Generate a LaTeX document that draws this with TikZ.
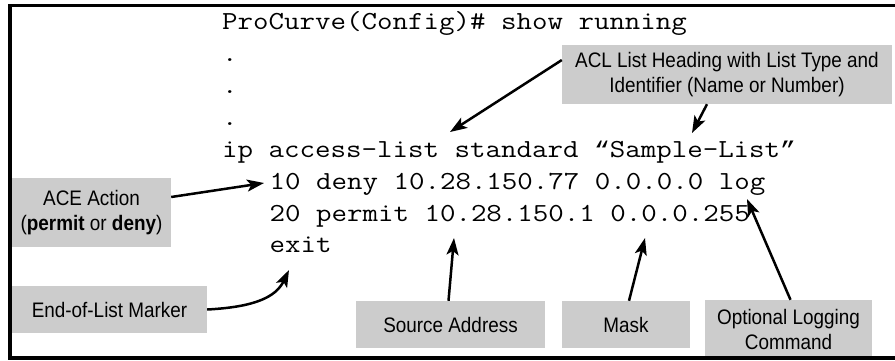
\documentclass[tikz,border=0pt]{standalone}
\usepackage{graphicx}
\usepackage{fontspec}
\setmainfont{Liberation Sans}
\newfontfamily\callfont{Liberation Sans}[FakeStretch=0.9]
\newfontfamily\quotefont{Liberation Mono}
\usetikzlibrary{arrows.meta}
\definecolor{callgray}{RGB}{204,204,204}
\newcommand{\cl}[1]{\scalebox{1.157}[1]{#1}}
\newcommand{\cq}[1]{{\quotefont\fontsize{22.75}{26}\selectfont #1}}
\begin{document}
\begin{tikzpicture}[x=1pt,y=-1pt,
  code/.style={anchor=base west, inner sep=0pt, font=\fontsize{26}{26}\selectfont\ttfamily},
  callout/.style={fill=callgray, inner sep=0pt, align=center, text=black,
    font=\callfont\fontsize{21}{25}\selectfont},
  arr/.style={line width=2.5pt, -{Stealth[length=17pt,width=12pt,inset=4pt]}}]
\useasboundingbox (0,0) rectangle (895,360);
% code
\node[code] (l0) at (222,29) {\cl{ProCurve(Config)\# show running}};
\node[code] (l1) at (222,61) {\cl{.}};
\node[code] (l2) at (222,93) {\cl{.}};
\node[code] (l3) at (222,125) {\cl{.}};
\node[code] (l4) at (222,157) {\cl{ip access-list standard \cq{“}Sample-List\cq{”}}};
\node[code] (l5) at (269.4,189) {\cl{10 deny 10.28.150.77 0.0.0.0 log}};
\node[code] (l6) at (269.4,221) {\cl{20 permit 10.28.150.1 0.0.0.255}};
\node[code] (l7) at (269.4,252) {\cl{exit}};
% callouts
\node[callout, minimum width=330pt, minimum height=59pt] (acl) at (727,74.5)
  {ACL List Heading with List Type and\\Identifier (Name or Number)};
\node[callout, minimum width=159pt, minimum height=69pt] (ace) at (91.5,212.5)
  {ACE Action\\(\textbf{permit} or \textbf{deny})};
\node[callout, minimum width=195pt, minimum height=47pt] (eol) at (109.5,309.5)
  {End-of-List Marker};
\node[callout, minimum width=189pt, minimum height=47pt] (src) at (450.5,324.5)
  {Source Address};
\node[callout, minimum width=128pt, minimum height=47pt] (msk) at (626,324.5)
  {Mask};
\node[callout, minimum width=167pt, minimum height=58pt] (opt) at (788.5,329)
  {Optional Logging\\Command};
% arrow targets
\coordinate (t1) at (450,132);
\coordinate (t2) at (692,133);
\coordinate (t3) at (264,183);
\coordinate (t4) at (289,270);
\coordinate (t5) at (454,238);
\coordinate (t6) at (645,238);
\coordinate (t7) at (747,199);
% arrows
\draw[arr] (acl.175.7) -- (t1);
\draw[arr] ([xshift=-20pt]acl.south) -- (t2);
\draw[arr] ([yshift=15.5pt]ace.east) -- (t3);
\draw[arr] (eol.east) .. controls (255,307) and (276,297) .. (t4);
\draw[arr] ([xshift=-2pt]src.north) -- (t5);
\draw[arr] ([xshift=3pt]msk.north) -- (t6);
\draw[arr] ([xshift=2pt]opt.north) -- (t7);
% frame
\draw[line width=3.4pt] (895,5.5) -- (10,5.5) -- (10,358) -- (895,358);
\end{tikzpicture}
\end{document}
